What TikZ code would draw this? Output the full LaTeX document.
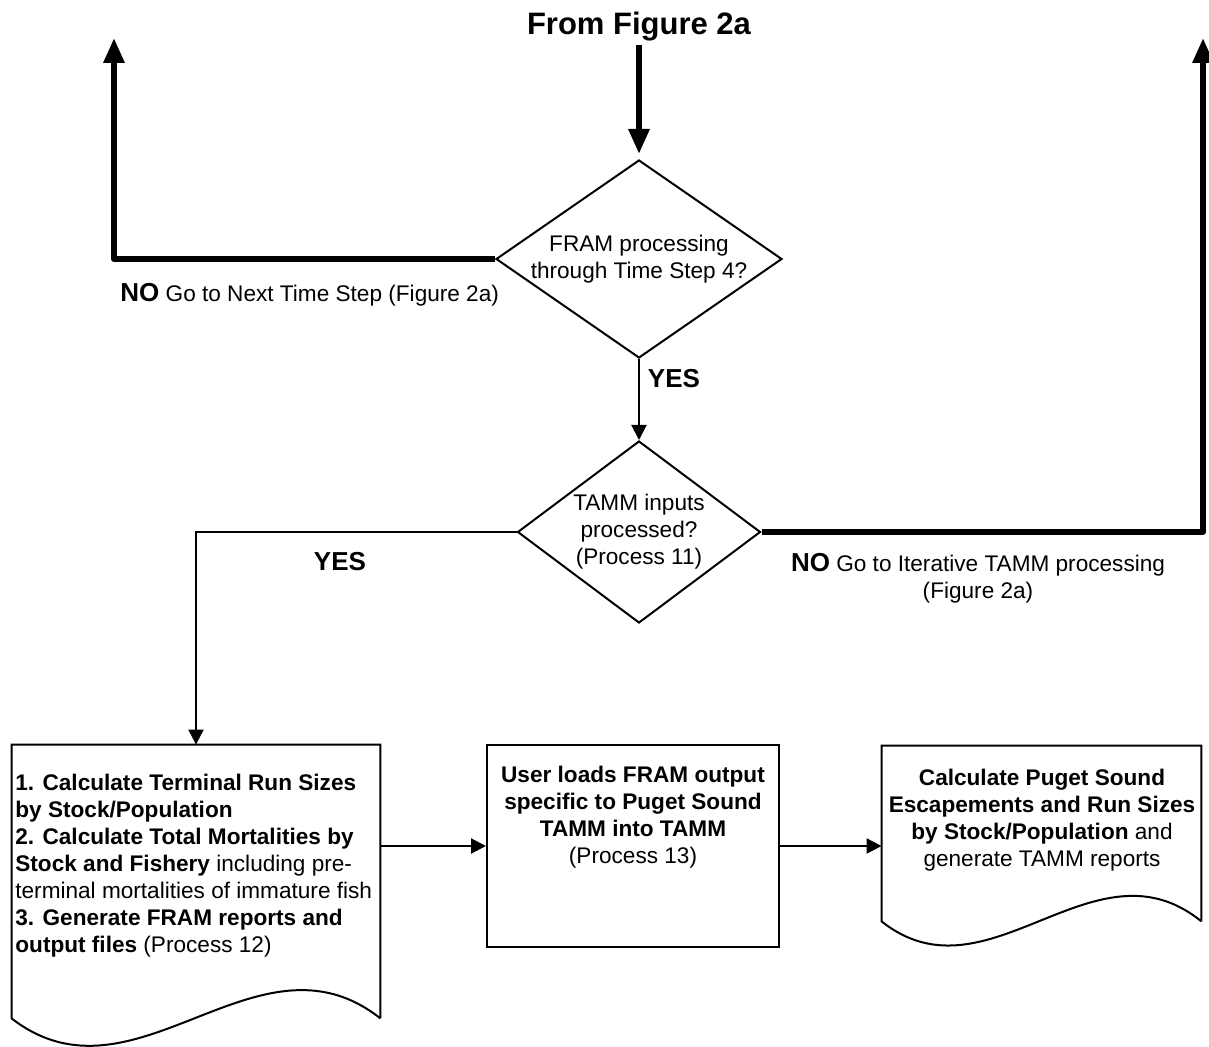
\documentclass[tikz,border=0pt]{standalone}
\usepackage{fontspec}
\setmainfont{Liberation Sans}
\usetikzlibrary{shapes.geometric,arrows.meta,calc}
\newcommand{\bigbf}[1]{{\fontsize{13pt}{13.5pt}\selectfont\bfseries #1}}
\begin{document}
\begin{tikzpicture}[x=0.5pt,y=-0.5pt,
  font=\fontsize{11.3pt}{13.5pt}\selectfont,
  heavy/.style={line width=3pt, line join=round, -{Triangle[length=12.5pt,width=10pt]}},
  lightarrow/.style={line width=1pt, -{Triangle[length=7.5pt,width=7.5pt]}},
  decision/.style={diamond, draw, line width=1pt, inner sep=0pt},
  procbox/.style={rectangle, draw, line width=1pt, inner sep=0pt},
  docframe/.style={rectangle, draw=none, inner sep=0pt},
  docline/.style={line width=1pt, line join=miter},
  txt/.style={inner sep=0pt, align=center},
  lbl/.style={inner sep=0pt}
]
\useasboundingbox (0,0) rectangle (1209,1047);

% title
\node[txt, font=\fontsize{15.5pt}{17pt}\selectfont\bfseries] (from) at (639,27) {From Figure 2a};

% decisions
\node[decision, minimum width=143pt, minimum height=99pt] (d1) at (639,259) {};
\node[txt] (d1text) at (d1.center) {FRAM processing\\through Time Step 4?};

\node[decision, minimum width=121.5pt, minimum height=91pt] (d2) at (639,532) {};
\node[txt] (d2text) at (d2.center) {TAMM inputs\\processed?\\(Process 11)};

% documents and process box
\node[docframe, minimum width=184pt, minimum height=136.5pt] (doc1) at (196,881.5) {};
\draw[docline] (doc1.south east) -- (doc1.north east) -- (doc1.north west) -- (doc1.south west)
  .. controls (135,1114) and (257,921) .. (doc1.south east);
\node[lbl, align=left, anchor=west] (doc1text) at (15,866)
  {\bfseries 1. Calculate Terminal Run Sizes\\
   \bfseries by Stock/Population\\
   \bfseries 2. Calculate Total Mortalities by\\
   \textbf{Stock and Fishery} including pre-\\
   terminal mortalities of immature fish\\
   \bfseries 3. Generate FRAM reports and\\
   \textbf{output files} (Process 12)};

\node[procbox, minimum width=146pt, minimum height=101pt] (box2) at (633,846) {};
\node[txt] (box2text) at (633,817)
  {\bfseries User loads FRAM output\\
   \bfseries specific to Puget Sound\\
   \bfseries TAMM into TAMM\\
   (Process 13)};

\node[docframe, minimum width=159.5pt, minimum height=87.5pt] (doc3) at (1041.5,833.5) {};
\draw[docline] (doc3.south east) -- (doc3.north east) -- (doc3.north west) -- (doc3.south west)
  .. controls (988,1006) and (1094,834) .. (doc3.south east);
\node[txt] (doc3text) at (1042,820)
  {\bfseries Calculate Puget Sound\\
   \bfseries Escapements and Run Sizes\\
   \textbf{by Stock/Population} and\\
   generate TAMM reports};

% loop-back targets
\coordinate (nextstep) at (114,38);
\coordinate (iterative) at (1203,38);

% connectors
\draw[heavy, shorten <=1.5pt, shorten >=2.5pt] (from.south) -- (d1.north);
\draw[heavy] (d1.west) -| (nextstep);
\draw[heavy] (d2.east) -| (iterative);
\draw[lightarrow] (d1.south) -- (d2.north);
\draw[lightarrow] (d2.west) -| (doc1.north);
\draw[lightarrow] (doc1.east |- box2.west) -- (box2.west);
\draw[lightarrow] (box2.east) -- (doc3.west |- box2.east);

% labels
\node[lbl, anchor=west] (no1) at (120,295) {\bigbf{NO} Go to Next Time Step (Figure 2a)};
\node[lbl] (yes1) at (674,379) {\bigbf{YES}};
\node[lbl] (yes2) at (340,562) {\bigbf{YES}};
\node[txt] (no2) at (978,578) {\bigbf{NO} Go to Iterative TAMM processing\\(Figure 2a)};
\end{tikzpicture}
\end{document}
